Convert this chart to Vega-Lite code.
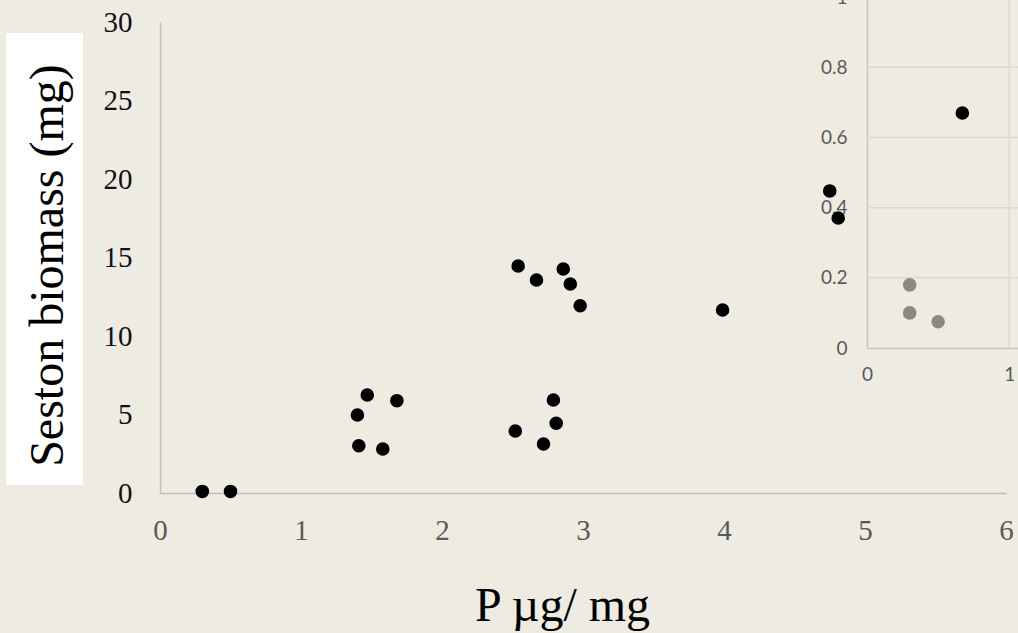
{
  "$schema": "https://vega.github.io/schema/vega-lite/v6.json",
  "width": 846,
  "height": 471,
  "autosize": {"type": "none"},
  "padding": {"left": 160, "top": 22, "right": 12, "bottom": 140},
  "background": "#EEEBE3",
  "config": {
    "view": {"stroke": null},
    "axis": {"ticks": false, "grid": false, "labelFlush": false, "labelOverlap": false}
  },
  "datasets": {
    "seston": [
      {"p": 0.30, "biomass": 0.10},
      {"p": 0.50, "biomass": 0.10},
      {"p": 1.47, "biomass": 6.24},
      {"p": 1.68, "biomass": 5.88},
      {"p": 1.40, "biomass": 4.97},
      {"p": 1.41, "biomass": 3.01},
      {"p": 1.58, "biomass": 2.80},
      {"p": 2.52, "biomass": 3.95},
      {"p": 2.79, "biomass": 5.92},
      {"p": 2.81, "biomass": 4.44},
      {"p": 2.72, "biomass": 3.12},
      {"p": 2.54, "biomass": 14.46},
      {"p": 2.67, "biomass": 13.57},
      {"p": 2.86, "biomass": 14.27},
      {"p": 2.91, "biomass": 13.31},
      {"p": 2.98, "biomass": 11.93},
      {"p": 3.99, "biomass": 11.66},
      {"p": 4.75, "biomass": 19.24},
      {"p": 4.81, "biomass": 17.52}
    ],
    "insetPoints": [
      {"p": 0.30, "biomass": 0.18, "group": "low"},
      {"p": 0.30, "biomass": 0.10, "group": "low"},
      {"p": 0.50, "biomass": 0.075, "group": "low"},
      {"p": 0.67, "biomass": 0.67, "group": "high"}
    ],
    "insetGridY": [{"v": 0.2}, {"v": 0.4}, {"v": 0.6}, {"v": 0.8}, {"v": 1.0}, {"v": 1.2}],
    "insetGridX": [{"v": 1}, {"v": 2}]
  },
  "layer": [
    {
      "layer": [
        {
          "data": {"values": [{}]},
          "mark": {"type": "rect", "color": "#FFFFFF"},
          "encoding": {
            "x": {
              "datum": -1.092, "type": "quantitative",
              "scale": {"domain": [0, 6], "nice": false, "zero": false},
              "axis": {
                "values": [0, 1, 2, 3, 4, 5, 6],
                "domainColor": "#BFBFBF", "domainWidth": 1.5,
                "labelFont": "Liberation Serif", "labelFontSize": 29, "labelColor": "#595959", "labelPadding": 23,
                "title": "P µg/ mg", "titleFont": "Liberation Serif", "titleFontSize": 48, "titleFontWeight": "normal",
                "titleColor": "#000000", "titleX": 402, "titleY": 127, "titleAlign": "center", "titleBaseline": "alphabetic"
              }
            },
            "x2": {"datum": -0.546},
            "y": {
              "datum": 29.3, "type": "quantitative",
              "scale": {"domain": [0, 30], "nice": false, "zero": false},
              "axis": {
                "values": [0, 5, 10, 15, 20, 25, 30], "zindex": 1,
                "domainColor": "#BFBFBF", "domainWidth": 1.5,
                "labelFont": "Liberation Serif", "labelFontSize": 29, "labelColor": "#111111", "labelPadding": 28,
                "title": "Seston biomass (mg)", "titleFont": "Liberation Serif", "titleFontSize": 48, "titleFontWeight": "normal",
                "titleColor": "#000000", "titleAngle": 270, "titleX": -98, "titleY": 243, "titleAlign": "center", "titleBaseline": "alphabetic"
              }
            },
            "y2": {"datum": 0.51}
          }
        },
        {
          "data": {"name": "seston"},
          "mark": {"type": "point", "filled": true, "color": "#000000", "opacity": 1, "size": 185},
          "encoding": {
            "x": {
              "field": "p", "type": "quantitative",
              "scale": {"domain": [0, 6], "nice": false, "zero": false},
              "axis": {
                "values": [0, 1, 2, 3, 4, 5, 6],
                "domainColor": "#BFBFBF", "domainWidth": 1.5,
                "labelFont": "Liberation Serif", "labelFontSize": 29, "labelColor": "#595959", "labelPadding": 23,
                "title": "P µg/ mg", "titleFont": "Liberation Serif", "titleFontSize": 48, "titleFontWeight": "normal",
                "titleColor": "#000000", "titleX": 402, "titleY": 127, "titleAlign": "center", "titleBaseline": "alphabetic"
              }
            },
            "y": {
              "field": "biomass", "type": "quantitative",
              "scale": {"domain": [0, 30], "nice": false, "zero": false},
              "axis": {
                "values": [0, 5, 10, 15, 20, 25, 30], "zindex": 1,
                "domainColor": "#BFBFBF", "domainWidth": 1.5,
                "labelFont": "Liberation Serif", "labelFontSize": 29, "labelColor": "#111111", "labelPadding": 28,
                "title": "Seston biomass (mg)", "titleFont": "Liberation Serif", "titleFontSize": 48, "titleFontWeight": "normal",
                "titleColor": "#000000", "titleAngle": 270, "titleX": -98, "titleY": 243, "titleAlign": "center", "titleBaseline": "alphabetic"
              }
            }
          }
        }
      ]
    },
    {
      "layer": [
        {
          "data": {"name": "insetGridY"},
          "mark": {"type": "rule", "color": "#D9D9D6", "strokeWidth": 1.5},
          "encoding": {
            "x": {"datum": 0, "type": "quantitative"},
            "x2": {"datum": 2},
            "y": {"field": "v", "type": "quantitative"}
          }
        },
        {
          "data": {"name": "insetGridX"},
          "mark": {"type": "rule", "color": "#D9D9D6", "strokeWidth": 1.5},
          "encoding": {
            "x": {"field": "v", "type": "quantitative"},
            "y": {"datum": 0, "type": "quantitative"},
            "y2": {"datum": 1.2}
          }
        },
        {
          "data": {"name": "insetPoints"},
          "mark": {"type": "point", "filled": true, "opacity": 1, "size": 185},
          "encoding": {
            "x": {
              "field": "p", "type": "quantitative",
              "scale": {"domain": [0, 2], "range": [707, 991.6], "nice": false, "zero": false},
              "axis": {
                "orient": "bottom", "offset": -145, "values": [0, 1, 2], "format": "~g",
                "domainColor": "#C6C6C6", "domainWidth": 1.5,
                "labelFont": "Lato", "labelFontSize": 19, "labelColor": "#595959", "labelPadding": 17,
                "title": null
              }
            },
            "y": {
              "field": "biomass", "type": "quantitative",
              "scale": {"domain": [0, 1.2], "range": [326, -95], "nice": false, "zero": false},
              "axis": {
                "orient": "left", "offset": -707, "values": [0, 0.2, 0.4, 0.6, 0.8, 1, 1.2], "format": "~g",
                "domainColor": "#C6C6C6", "domainWidth": 1.5,
                "labelFont": "Lato", "labelFontSize": 19, "labelColor": "#595959", "labelPadding": 20,
                "title": null
              }
            },
            "color": {
              "field": "group", "type": "nominal",
              "scale": {"domain": ["low", "high"], "range": ["#8A8A85", "#000000"]},
              "legend": null
            }
          }
        }
      ]
    }
  ],
  "resolve": {"scale": {"x": "independent", "y": "independent"}}
}
